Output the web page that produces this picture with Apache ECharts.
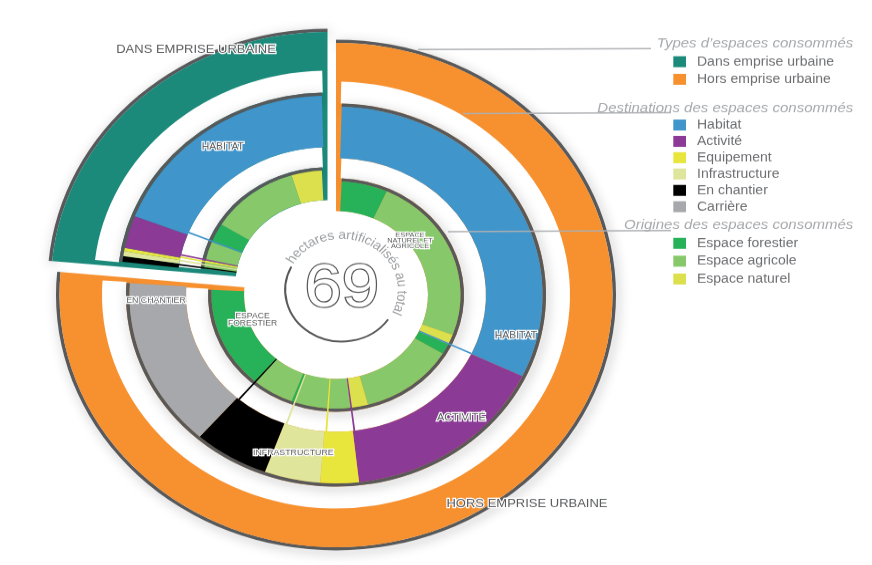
<!DOCTYPE html>
<html>
<head>
<meta charset="utf-8">
<script src="https://cdn.jsdelivr.net/npm/echarts@6/dist/echarts.min.js"></script>
<style>
html, body { margin: 0; padding: 0; background: #fff; overflow: hidden; }
/* the reference drawing is slightly squashed vertically */
#main { width: 872px; height: 620px; transform: scaleY(0.912); transform-origin: 0 0; }
</style>
</head>
<body>
<div id="main"></div>
<script>
// ---- data (hectares) ----
var total = 69;
var types = ['Dans emprise urbaine', 'Hors emprise urbaine'];
var destinations = ['Habitat', 'Activité', 'Equipement', 'Infrastructure', 'En chantier', 'Carrière'];
var origins = ['Espace forestier', 'Espace agricole', 'Espace naturel'];
// surface per destination
var dansByDest = [13.4, 2.0, 0.2, 0.3, 0.35, 0];
var horsByDest = [22.1, 11.25, 2.1, 3.05, 4.1, 10.15];
// per destination: [forestier, agricole, naturel]
var dansOrigins = [[2.0, 8.5, 2.9], [0, 2.0, 0], [0, 0, 0.2], [0, 0.3, 0], [0, 0.35, 0], [0, 0, 0]];
var horsOrigins = [[4.2, 16.9, 1.0], [1.05, 8.6, 1.6], [0, 2.1, 0], [0, 3.05, 0], [0.25, 3.85, 0], [10.15, 0, 0]];

// ---- colours ----
var typeColors = ['#1b8a7b', '#f7902e'];
var destColors = ['#4095cb', '#8b3a96', '#e8e53c', '#dfe59a', '#000000', '#a6a8ab'];
var originColors = ['#27b259', '#87c86a', '#dce04c'];
var edge = '#58595b';
var clear = 'rgba(0,0,0,0)';

// ---- layout ----
var SY = 0.912;
function cy(v) { return v / SY; }
var centers = [[327.5, cy(284)], [336, cy(295)]];
var innerR = [92, 128], middleR = [150, 210], outerR = [234, 280];
var BW = 3.5;      // dark edge on the rings
var STRIP = 5;     // coloured strip left along the cut
var SEP = 0.14;    // width of the separator lines (ha)

function sum(a) { return a.reduce(function (s, v) { return s + v; }, 0); }
var groupTotals = [sum(dansByDest), sum(horsByDest)];

function filler(v) {
  return { name: '', value: v, itemStyle: { color: clear, shadowColor: clear, shadowBlur: 0 } };
}
function item(name, value, color) {
  return { name: name, value: value, itemStyle: { color: color } };
}
// data of one ring for group g, items given clockwise, with a small inset at both ends
function ringData(g, items, padRadius) {
  var G = groupTotals[g], other = groupTotals[1 - g];
  var p = STRIP / padRadius * total / (2 * Math.PI);
  var k = (G - 2 * p) / G;
  var body = [filler(p)];
  items.forEach(function (it) {
    var d = item(it.name, it.value * k, it.color);
    if (it.clear) d = filler(it.value * k);
    body.push(d);
  });
  body.push(filler(p));
  return g === 0 ? [filler(other)].concat(body) : body.concat([filler(other)]);
}
function fullRing(g, name, color) {
  return g === 0 ? [filler(groupTotals[1]), item(name, groupTotals[0], color)]
                 : [item(name, groupTotals[1], color), filler(groupTotals[0])];
}
function destOrder(g) { return g === 1 ? [0, 1, 2, 3, 4, 5] : [5, 4, 3, 2, 1, 0]; }

var shadow = { shadowBlur: 12, shadowColor: 'rgba(0,0,0,0.35)', shadowOffsetX: 2, shadowOffsetY: 3 };

function pie(g, radius, z, data, style) {
  return {
    type: 'pie', silent: true, animation: false, startAngle: 90, clockwise: true,
    center: centers[g], radius: radius, z: z, avoidLabelOverlap: false,
    label: { show: false }, labelLine: { show: false }, emphasis: { disabled: true },
    itemStyle: Object.assign({ borderWidth: 0 }, style || {}),
    data: data
  };
}

var series = [];
[0, 1].forEach(function (g) {
  var byDest = g === 0 ? dansByDest : horsByDest;
  var byOrig = g === 0 ? dansOrigins : horsOrigins;
  var G = groupTotals[g];
  var dests = [], origs = [], seps = [];
  destOrder(g).forEach(function (d) {
    var v = byDest[d];
    if (v <= 0) return;
    dests.push({ name: destinations[d], value: v, color: destColors[d] });
    byOrig[d].forEach(function (o, i) {
      if (o > 0) origs.push({ name: origins[i], value: o, color: originColors[i] });
    });
    var w = Math.min(SEP, v);
    if (g === 1) {
      seps.push({ name: '', value: v - w, clear: true });
      seps.push({ name: '', value: w, color: destColors[d], clear: d === 5 });
    } else {
      seps.push({ name: '', value: w, color: destColors[d] });
      if (v > w) seps.push({ name: '', value: v - w, clear: true });
    }
  });
  series.push(pie(g, [outerR[1] - BW, outerR[1]], 1, fullRing(g, '', edge), shadow));
  series.push(pie(g, [innerR[0], outerR[1] - BW], 2, fullRing(g, types[g], typeColors[g])));
  series.push(pie(g, [innerR[1], middleR[0]], 3, ringData(g, [{ name: '', value: G, color: '#fff' }], 139)));
  series.push(pie(g, [middleR[1], outerR[0]], 3, ringData(g, [{ name: '', value: G, color: '#fff' }], 222)));
  series.push(pie(g, [middleR[1] - BW, middleR[1]], 4, ringData(g, [{ name: '', value: G, color: edge }], 180), shadow));
  series.push(pie(g, [middleR[0], middleR[1] - BW], 5, ringData(g, dests, 180)));
  series.push(pie(g, [innerR[1] - BW, innerR[1]], 6, ringData(g, [{ name: '', value: G, color: edge }], 110), shadow));
  series.push(pie(g, [innerR[0], innerR[1] - BW], 7, ringData(g, origs, 110)));
  series.push(pie(g, [innerR[0], middleR[0]], 8, ringData(g, seps, 110)));
});

// ---- texts ----
var font = '"Liberation Sans", Arial, sans-serif';
var graphics = [];
var ringLabels = [
  ['DANS EMPRISE URBAINE', 196, 50, 13],
  ['HORS EMPRISE URBAINE', 527, 504, 13],
  ['HABITAT', 222.8, 146.7, 10.4],
  ['HABITAT', 516, 336, 10.4],
  ['ACTIVITÉ', 461.3, 417.3, 10.8],
  ['INFRASTRUCTURE', 293.3, 453.3, 8.8],
  ['EN CHANTIER', 156, 300.7, 8.8],
  ['ESPACE\nFORESTIER', 252.5, 319.5, 8.6, 8.3],
  ['ESPACE\nNATUREL ET\nAGRICOLE', 410, 240.7, 7.4, 6]
];
ringLabels.forEach(function (l) {
  graphics.push({
    type: 'text', x: l[1], y: cy(l[2]), z: 100, silent: true,
    style: {
      text: l[0], fontSize: l[3], fontFamily: font, lineHeight: l[4] || l[3] * 1.15,
      fill: '#5a5b5d', stroke: '#fff', lineWidth: 2.4,
      textAlign: 'center', textVerticalAlign: 'middle'
    }
  });
});

var titles = [
  ['Types d’espaces consommés', 43.3],
  ['Destinations des espaces consommés', 108.3],
  ['Origines des espaces consommés', 225]
];
titles.forEach(function (t) {
  graphics.push({
    type: 'text', x: 853.3, y: cy(t[1]), z: 100, silent: true,
    style: { text: t[0], fontSize: 15, fontStyle: 'italic', fontFamily: font, fill: '#a7a9ac',
             textAlign: 'right', textVerticalAlign: 'middle' }
  });
});
var leaders = [[418, 49.5, 651, 48.5], [463, 113.5, 671, 112.7], [448, 231.7, 671, 230.5]];
leaders.forEach(function (l) {
  graphics.push({
    type: 'line', z: 90, silent: true,
    shape: { x1: l[0], y1: cy(l[1]), x2: l[2], y2: cy(l[3]) },
    style: { stroke: '#aeb0b3', lineWidth: 1.5 }
  });
});

// centre: total, curved caption, hand drawn arc
var mid = [341.7, cy(290)];
graphics.push({
  type: 'text', x: mid[0], y: mid[1], z: 100, silent: true,
  style: { text: String(total), fontSize: 67, fontFamily: font, fill: '#fff', stroke: '#58595b',
           lineWidth: 2.5, textAlign: 'center', textVerticalAlign: 'middle' }
});
graphics.push({
  type: 'arc', z: 100, silent: true,
  shape: { cx: mid[0], cy: mid[1], r: 56.5, startAngle: 34.8 * Math.PI / 180, endAngle: 207 * Math.PI / 180, clockwise: true },
  style: { stroke: '#58595b', lineWidth: 2, fill: null }
});
var caption = 'hectares artificialisés au total';
var capR = 60, capFrom = 146, capTo = -25, capSize = 14;
var ctx = document.createElement('canvas').getContext('2d');
ctx.font = capSize + 'px "Liberation Sans"';
var chars = caption.split('');
var mids = [], acc = 0;
chars.forEach(function (c) { var w = ctx.measureText(c).width; mids.push(acc + w / 2); acc += w; });
var span = mids[mids.length - 1] - mids[0];
chars.forEach(function (c, i) {
  if (c === ' ') return;
  var a = (capFrom - (mids[i] - mids[0]) / span * (capFrom - capTo)) * Math.PI / 180;
  graphics.push({
    type: 'text', x: mid[0] + capR * Math.cos(a), y: mid[1] - capR * Math.sin(a),
    rotation: a - Math.PI / 2, z: 100, silent: true,
    style: { text: c, fontSize: capSize, fontFamily: font, fill: '#9d9fa2',
             textAlign: 'center', textVerticalAlign: 'middle' }
  });
});

function legend(names, centerY, spacing) {
  var h = 16;
  return {
    orient: 'vertical', left: 673.3, top: cy(centerY) - h / 2, padding: 0,
    itemWidth: 12.7, itemHeight: 12, itemGap: spacing / SY - h, icon: 'rect',
    selectedMode: false, data: names,
    textStyle: { color: '#6d6e71', fontSize: 14, fontFamily: font, lineHeight: h, padding: [0, 0, 0, 6] }
  };
}

var chart = echarts.init(document.getElementById('main'), null, { renderer: 'canvas' });
chart.setOption({
  animation: false,
  backgroundColor: '#fff',
  legend: [
    legend(types, 61.7, 17.6),
    legend(destinations, 125, 16.34),
    legend(origins, 243.3, 17.85)
  ],
  series: series,
  graphic: graphics
});
</script>
</body>
</html>
